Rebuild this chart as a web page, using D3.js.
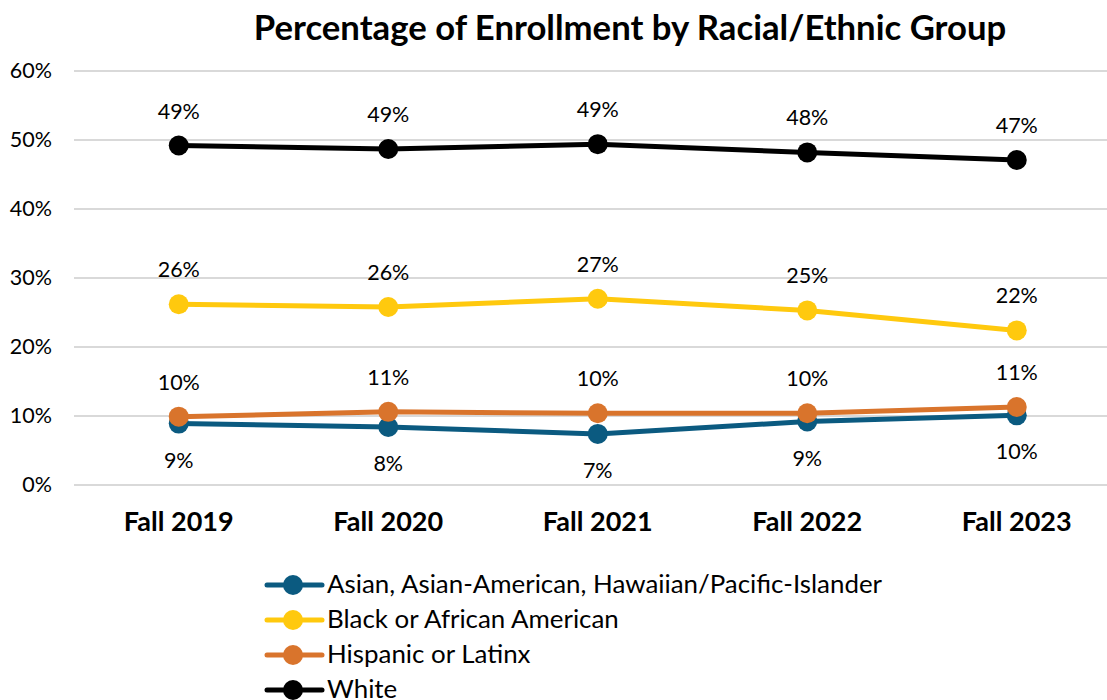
<!DOCTYPE html>
<html lang="en">
<head>
<meta charset="UTF-8">
<title>Percentage of Enrollment by Racial/Ethnic Group</title>
<script src="https://d3js.org/d3.v7.min.js"></script>
<style>
    body { margin: 0; background: #fff; }
    svg { display: block; font-family: Lato, "Open Sans", sans-serif; }
    .grid line { stroke: #d9d9d9; stroke-width: 2px; }
    .tick-label { font-size: 21.5px; fill: #000; text-anchor: end; }
    .cat-label { font-size: 27px; font-weight: bold; fill: #000; text-anchor: middle; }
    .data-label { font-size: 21.5px; fill: #000; text-anchor: middle; }
    .legend-text { font-size: 25.9px; fill: #000; }
</style>
</head>
<body>
<svg id="chart"></svg>
<script>
    // values
    const terms = ["Fall 2019", "Fall 2020", "Fall 2021", "Fall 2022", "Fall 2023"];
    const asian = [8.9, 8.4, 7.4, 9.2, 10.1];
    const black = [26.2, 25.8, 27.0, 25.3, 22.4];
    const hispanic = [9.9, 10.6, 10.4, 10.4, 11.3];
    const white = [49.2, 48.7, 49.4, 48.2, 47.1];
    const yTicks = [0, 10, 20, 30, 40, 50, 60];

    const series = [
        {name: "Asian, Asian-American, Hawaiian/Pacific-Islander", values: asian, color: "#0b5a80", below: true},
        {name: "Black or African American", values: black, color: "#ffc90e", below: false},
        {name: "Hispanic or Latinx", values: hispanic, color: "#d9742c", below: false},
        {name: "White", values: white, color: "#000000", below: false}
    ];

    const W = 1107, H = 700;
    const svg = d3.select("#chart").attr("width", W).attr("height", H);

    const x = d3.scaleBand().domain(terms).range([74, 1121.5]);
    const cx = d => x(d) + x.bandwidth() / 2;
    const y = d3.scaleLinear().domain([0, 60]).range([485, 71]);

    // title
    svg.append("text")
        .attr("x", 630).attr("y", 40)
        .attr("text-anchor", "middle")
        .style("font-size", "34.7px").style("font-weight", "bold")
        .text("Percentage of Enrollment by Racial/Ethnic Group");

    // gridlines
    svg.append("g").attr("class", "grid")
        .selectAll("line").data(yTicks).join("line")
        .attr("x1", 74).attr("x2", W)
        .attr("y1", d => y(d)).attr("y2", d => y(d));

    svg.append("g").selectAll("text").data(yTicks).join("text")
        .attr("class", "tick-label")
        .attr("x", 52).attr("y", d => y(d) + 7)
        .text(d => d + "%");

    svg.append("g").selectAll("text").data(terms).join("text")
        .attr("class", "cat-label")
        .attr("x", d => cx(d)).attr("y", 531)
        .text(d => d);

    const line = d3.line().x((d, i) => cx(terms[i])).y(d => y(d));

    series.forEach(s => {
        const g = svg.append("g");
        g.append("path")
            .datum(s.values)
            .attr("d", line)
            .attr("fill", "none")
            .attr("stroke", s.color)
            .attr("stroke-width", 5)
            .attr("stroke-linejoin", "round");
        g.selectAll("circle").data(s.values).join("circle")
            .attr("cx", (d, i) => cx(terms[i]))
            .attr("cy", d => y(d))
            .attr("r", 10)
            .attr("fill", s.color);
    });

    series.forEach(s => {
        svg.append("g").selectAll("text").data(s.values).join("text")
            .attr("class", "data-label")
            .attr("x", (d, i) => cx(terms[i]))
            .attr("y", d => y(d) + (s.below ? 44 : -27))
            .text(d => Math.round(d) + "%");
    });

    // legend
    const legend = svg.append("g").selectAll("g").data(series).join("g")
        .attr("transform", (d, i) => `translate(267,${585 + i * 35})`);
    legend.append("line")
        .attr("x1", 0).attr("x2", 55)
        .attr("stroke", d => d.color).attr("stroke-width", 5)
        .attr("stroke-linecap", "round");
    legend.append("circle")
        .attr("cx", 26).attr("r", 10)
        .attr("fill", d => d.color);
    legend.append("text")
        .attr("class", "legend-text")
        .attr("x", 60).attr("y", 8)
        .text(d => d.name);
</script>
</body>
</html>
